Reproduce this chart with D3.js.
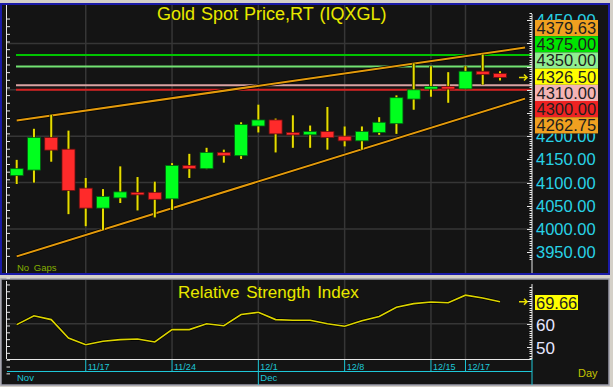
<!DOCTYPE html>
<html><head><meta charset="utf-8">
<script src="https://cdn.jsdelivr.net/npm/d3@7"></script>
<style>
html,body{margin:0;padding:0;background:#d4d0c8;}
svg{display:block;font-family:"Liberation Sans",Arial,sans-serif;}
</style></head>
<body>
<script>
const dates = ["11/11","11/12","11/13","11/14","11/17","11/18","11/19","11/20","11/21",
  "11/24","11/25","11/26","11/27","11/28","12/1","12/2","12/3","12/4","12/5",
  "12/8","12/9","12/10","12/11","12/12","12/15","12/16","12/17","12/18","12/19"];
const open  = [4115,4127,4197,4172,4088,4045,4067,4079,4079,4065,4137,4130,4165,4158,4222,4235,4208,4203,4210,4200,4190,4208,4227,4280,4303,4307,4302,4340,4335];
const high  = [4149,4216,4246,4212,4110,4086,4135,4112,4102,4142,4162,4175,4171,4230,4268,4238,4245,4223,4263,4221,4221,4241,4288,4357,4351,4338,4351,4376,4340];
const low   = [4097,4100,4145,4032,4006,3998,4056,4040,4025,4041,4110,4129,4143,4151,4208,4165,4175,4175,4171,4178,4171,4203,4205,4257,4285,4272,4301,4311,4320];
const close = [4130,4197,4170,4083,4045,4070,4080,4077,4064,4137,4130,4165,4158,4225,4235,4205,4203,4210,4197,4190,4210,4230,4283,4300,4307,4302,4340,4333,4326.5];
const rsi   = [59.6,63.5,61.8,53.7,50.8,52.3,53,53.3,52,57.4,57.4,60,59.1,64,65,61.8,61.5,61.5,60,58.9,61.3,63.2,67.2,68.8,69.5,69.2,72.5,71.3,69.66];

const levelValues = [4375, 4350, 4310, 4300];
const levelColors = ["#00c400", "#72e272", "#d9a2a2", "#d42020"];
const upperTrend = [[0, 4234], [29.45, 4391]];
const lowerTrend = [[0, 3941], [29.45, 4281]];

const priceTicks = [4450,4200,4150,4100,4050,4000,3950];
const priceGrid = [4000,4100,4200,4300,4400];
const boxLabels = ["4379.63","4375.00","4350.00","4326.50","4310.00","4300.00","4262.75"];
const boxColors = ["#f0a020","#00e400","#90ee90","#ffff00","#f4b4b4","#ee2222","#f0a020"];
const rsiTicks = [60, 50];
const rsiLast = "69.66";
const dateTicks = ["11/17","11/24","12/1","12/8","12/15","12/17"];
const monthTicks = [["Nov","11/11"],["Dec","12/1"]];

const W = 613, H = 387;
const svg = d3.select("body").append("svg").attr("width", W).attr("height", H);

// clip for axis labels partly hidden behind the label boxes
const defs = svg.append("defs");
const cp = defs.append("clipPath").attr("id", "axclip");
cp.append("rect").attr("x", 530).attr("y", 0).attr("width", 83).attr("height", 20);
cp.append("rect").attr("x", 530).attr("y", 133.4).attr("width", 83).attr("height", 150);

// frames
svg.append("rect").attr("x",1).attr("y",4).attr("width",608).attr("height",270)
  .attr("fill","#141414").attr("stroke","#1a1aa8").attr("stroke-width",2);
svg.append("rect").attr("x",1).attr("y",279).attr("width",608).attr("height",106)
  .attr("fill","#141414").attr("stroke","#9a9aa8").attr("stroke-width",1.5);

const plotL = 7, plotR = 532;
const x = d3.scaleLinear().domain([0, dates.length - 1]).range([16.7, 500]);
const y = d3.scaleLinear().domain([4000, 4400]).range([229, 43.4]);
const yr = d3.scaleLinear().domain([50, 60]).range([346.5, 323.7]);
const xi = d => x(dates.indexOf(d));

// grids panel 1
const g1 = svg.append("g");
g1.selectAll(".vg").data(dateTicks).join("line")
  .attr("x1", d => xi(d)).attr("x2", d => xi(d)).attr("y1", 5).attr("y2", 273)
  .attr("stroke", "#363636").attr("stroke-width", 1.5);
g1.selectAll(".hg").data(priceGrid).join("line")
  .attr("x1", plotL).attr("x2", plotR).attr("y1", d => y(d)).attr("y2", d => y(d))
  .attr("stroke", "#363636").attr("stroke-width", 1.5);

// horizontal levels
g1.selectAll(".lvl").data(levelValues).join("line")
  .attr("x1", 16).attr("x2", plotR).attr("y1", d => y(d)).attr("y2", d => y(d))
  .attr("stroke", (d,i) => levelColors[i]).attr("stroke-width", 2);

// trendlines
[upperTrend, lowerTrend].forEach(t => {
  g1.append("line").attr("x1", x(t[0][0])).attr("y1", y(t[0][1]))
    .attr("x2", x(t[1][0])).attr("y2", y(t[1][1]))
    .attr("stroke", "#000").attr("stroke-width", 3.5);
  g1.append("line").attr("x1", x(t[0][0])).attr("y1", y(t[0][1]))
    .attr("x2", x(t[1][0])).attr("y2", y(t[1][1]))
    .attr("stroke", "#e39a0c").attr("stroke-width", 2);
});

// candles
const cg = svg.append("g");
dates.forEach((d, i) => {
  const cx = x(i);
  cg.append("line").attr("x1", cx).attr("x2", cx).attr("y1", y(high[i])).attr("y2", y(low[i]))
    .attr("stroke", "#1a1a00").attr("stroke-width", 3.5);
  cg.append("line").attr("x1", cx).attr("x2", cx).attr("y1", y(high[i])).attr("y2", y(low[i]))
    .attr("stroke", "#e6dc00").attr("stroke-width", 2);
  const up = close[i] >= open[i];
  const top = y(Math.max(open[i], close[i]));
  const h = Math.max(2.5, Math.abs(y(open[i]) - y(close[i])));
  cg.append("rect").attr("x", cx - 6.5).attr("width", 13).attr("y", top).attr("height", h)
    .attr("fill", up ? "#00ff1e" : "#ff2a2a")
    .attr("stroke", up ? "#006010" : "#701010").attr("stroke-width", 0.8);
});

// axes lines & ticks panel 1
svg.append("line").attr("x1", 6.5).attr("x2", 6.5).attr("y1", 5).attr("y2", 273).attr("stroke", "#e8e8e8").attr("stroke-width", 1);
svg.append("line").attr("x1", plotR).attr("x2", plotR).attr("y1", 14).attr("y2", 273).attr("stroke", "#e8e8e8").attr("stroke-width", 1);
const leftTicks = d3.range(3941, 4460, 16.5);
svg.append("g").selectAll("line").data(leftTicks).join("line")
  .attr("x1", 6.5).attr("x2", 10).attr("y1", d => y(d)).attr("y2", d => y(d))
  .attr("stroke", "#e8e8e8").attr("stroke-width", 1);
const rightTicks = d3.range(3935, 4466, 5);
svg.append("g").selectAll("line").data(rightTicks).join("line")
  .attr("x1", d => (d % 50 === 0) ? plotR - 5 : plotR - 2.5).attr("x2", plotR)
  .attr("y1", d => Math.round(y(d)) + 0.5).attr("y2", d => Math.round(y(d)) + 0.5)
  .attr("stroke", "#e8e8e8").attr("stroke-width", 1);

// price labels
svg.append("g").attr("clip-path", "url(#axclip)").selectAll("text").data(priceTicks).join("text")
  .attr("x", 536).attr("y", d => y(d) + 6).attr("font-size", 16.5)
  .attr("fill", "#28d2e6").text(d => d.toFixed(2));

// boxes
const bx = svg.append("g");
boxLabels.forEach((t, i) => {
  const by = 20 + i * 16.2;
  bx.append("rect").attr("x", 535).attr("y", by).attr("width", 63).attr("height", 16.2).attr("fill", boxColors[i]);
  bx.append("text").attr("x", 536.5).attr("y", by + 14).attr("font-size", 16.5).attr("fill", "#1e1e1e").text(t);
});

// last price arrow
function arrow(cx, cy) {
  svg.append("path").attr("d", `M${cx-5},${cy}L${cx+3},${cy}M${cx},${cy-3}L${cx+3},${cy}L${cx},${cy+3}`)
    .attr("stroke", "#e6dc00").attr("stroke-width", 1.5).attr("fill", "none");
}
arrow(524, y(close[close.length-1]));

// title
svg.append("text").attr("x", 157).attr("y", 20).attr("font-size", 18).attr("word-spacing", 1)
  .attr("fill", "#e8e800").attr("stroke", "#202000").attr("stroke-width", 0.6).attr("paint-order", "stroke")
  .text("Gold Spot Price,RT (IQXGL)");
svg.append("text").attr("x", 17).attr("y", 271).attr("font-size", 9.5).attr("word-spacing", 2)
  .attr("fill", "#86b000").text("No Gaps");

// RSI panel
const g2 = svg.append("g");
g2.selectAll(".vg").data(dateTicks).join("line")
  .attr("x1", d => xi(d)).attr("x2", d => xi(d)).attr("y1", 280).attr("y2", 359)
  .attr("stroke", "#363636").attr("stroke-width", 1.5);
g2.append("line").attr("x1", plotL).attr("x2", plotR).attr("y1", yr(60)).attr("y2", yr(60))
  .attr("stroke", "#363636").attr("stroke-width", 1.5);
const rline = d3.line().x((d, i) => x(i)).y(d => yr(d));
g2.append("path").attr("d", rline(rsi)).attr("fill", "none").attr("stroke", "#000").attr("stroke-width", 3);
g2.append("path").attr("d", rline(rsi)).attr("fill", "none").attr("stroke", "#dcd400").attr("stroke-width", 1.6);
g2.append("text").attr("x", 178).attr("y", 298).attr("font-size", 17).attr("word-spacing", 2)
  .attr("fill", "#e8e800").attr("stroke", "#202000").attr("stroke-width", 0.6).attr("paint-order", "stroke")
  .text("Relative Strength Index");

svg.append("line").attr("x1", 6.5).attr("x2", 6.5).attr("y1", 281).attr("y2", 359).attr("stroke", "#e8e8e8");
svg.append("g").selectAll("line").data(d3.range(38, 82, 3)).join("line")
  .attr("x1", 6.5).attr("x2", 10).attr("y1", d => yr(d)).attr("y2", d => yr(d))
  .attr("stroke", "#e8e8e8");
svg.append("line").attr("x1", plotR).attr("x2", plotR).attr("y1", 284).attr("y2", 359).attr("stroke", "#e8e8e8");
svg.append("g").selectAll("line").data(d3.range(45, 77, 1).filter(d => yr(d) > 285 && yr(d) < 358)).join("line")
  .attr("x1", d => d % 10 === 0 ? plotR - 5 : plotR - 2.5).attr("x2", plotR)
  .attr("y1", d => Math.round(yr(d)) + 0.5).attr("y2", d => Math.round(yr(d)) + 0.5)
  .attr("stroke", "#e8e8e8");
svg.append("g").selectAll("text").data(rsiTicks).join("text")
  .attr("x", 536).attr("y", d => yr(d) + 7).attr("font-size", 17).attr("fill", "#e6e6ff").text(d => d);
svg.append("rect").attr("x", 535).attr("y", 295).attr("width", 43).attr("height", 15).attr("fill", "#ffff00");
svg.append("text").attr("x", 536).attr("y", 308.5).attr("font-size", 16.5).attr("fill", "#1e1e1e").text(rsiLast);
arrow(524, yr(rsi[rsi.length-1]));

// bottom date strip
const s = svg.append("g");
s.append("line").attr("x1", plotL).attr("x2", plotR).attr("y1", 359.5).attr("y2", 359.5).attr("stroke", "#e8e8e8");
s.append("line").attr("x1", plotL).attr("x2", plotR).attr("y1", 371.5).attr("y2", 371.5).attr("stroke", "#1ec8d8");
s.append("line").attr("x1", plotR).attr("x2", plotR).attr("y1", 359).attr("y2", 385).attr("stroke", "#1ec8d8");
s.selectAll(".dt").data(dateTicks).join("line")
  .attr("x1", d => xi(d)).attr("x2", d => xi(d)).attr("y1", 360)
  .attr("y2", d => d === "12/1" ? 385 : 371.5)
  .attr("stroke", "#1ec8d8").attr("stroke-width", 1);
s.selectAll(".dl").data(dateTicks).join("text")
  .attr("x", d => xi(d) + 2).attr("y", 370).attr("font-size", 9).attr("fill", "#1ec8d8").text(d => d);
s.selectAll(".ml").data(monthTicks).join("text")
  .attr("x", d => d[1] === "11/11" ? 17 : xi(d[1]) + 2).attr("y", 381).attr("font-size", 9.5)
  .attr("fill", "#1ec8d8").text(d => d[0]);
svg.append("text").attr("x", 578).attr("y", 377).attr("font-size", 11).attr("fill", "#c4c400").text("Day");
</script>
</body></html>
